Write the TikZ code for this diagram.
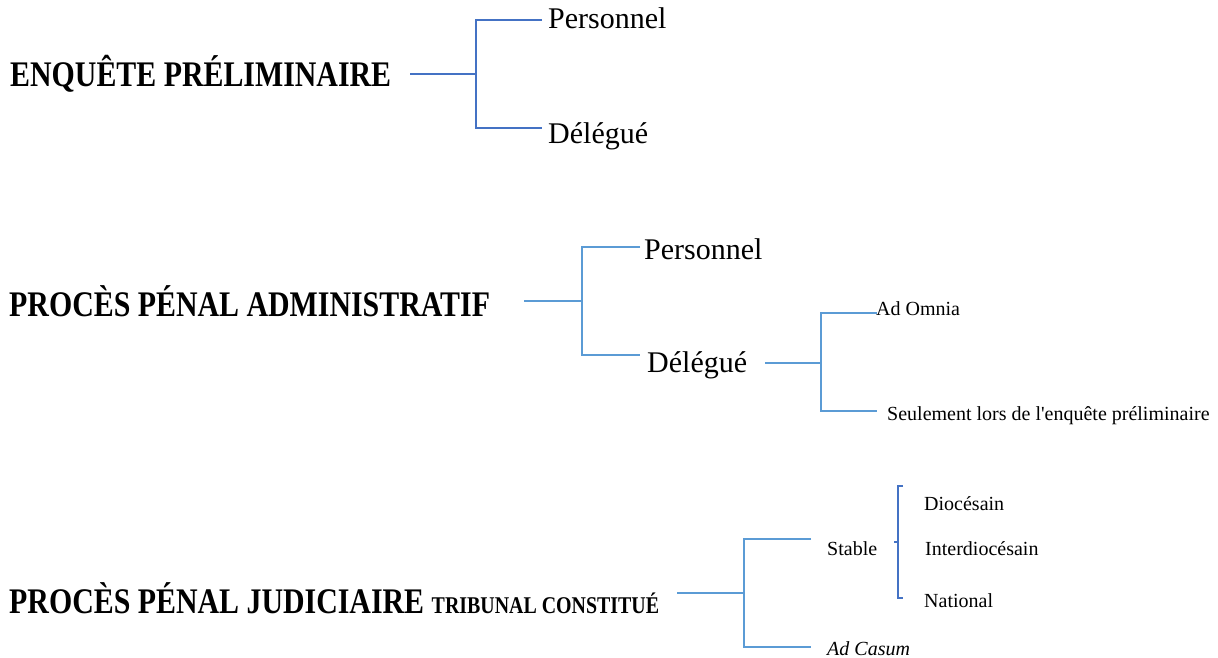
\documentclass[tikz,border=0pt]{standalone}
\usepackage{fontspec}
\setmainfont{Liberation Serif}
\newfontfamily\titlefont[FakeStretch=0.83]{Liberation Serif}
\newfontfamily\smallfont{Liberation Serif}
\newcommand{\subtitlesize}{\fontsize{24}{28}\selectfont}

\definecolor{darkblue}{HTML}{4472C4}
\definecolor{lightblue}{HTML}{5B9BD5}

\tikzset{
	heading/.style={anchor=base west, inner sep=0pt, font=\titlefont\fontsize{36}{40}\selectfont\bfseries},
	bigtext/.style={anchor=base west, inner sep=0pt, font=\fontsize{30}{34}\selectfont},
	smalltext/.style={anchor=base west, inner sep=0pt, font=\smallfont\fontsize{20}{24}\selectfont},
	darkbranch/.style={draw=darkblue, line width=1.2pt},
	lightbranch/.style={draw=lightblue, line width=1.2pt},
}

\begin{document}
\begin{tikzpicture}[x=1pt,y=-1pt]

	\useasboundingbox (0,0) rectangle (1218,658);

	% enquete preliminaire
	\node[heading] (enq) at (10,87) {ENQUÊTE PRÉLIMINAIRE};
	\node[bigtext] (pers1) at (548,29) {Personnel};
	\node[bigtext] (del1) at (548,144) {Délégué};
	\coordinate (s1) at (410,74);
	\coordinate (j1) at (476,74);
	\coordinate (e1a) at (542,20);
	\coordinate (e1b) at (542,128);
	\draw[darkbranch] (s1) -- (j1);
	\draw[darkbranch] (e1a) -| (j1) |- (e1b);

	% proces penal administratif
	\node[heading] (adm) at (9,316) {PROCÈS PÉNAL ADMINISTRATIF};
	\node[bigtext] (pers2) at (644,259) {Personnel};
	\node[bigtext] (del2) at (647,372) {Délégué};
	\coordinate (s2) at (524,301);
	\coordinate (j2) at (582,301);
	\coordinate (e2a) at (640,247);
	\coordinate (e2b) at (640,355);
	\draw[lightbranch] (s2) -- (j2);
	\draw[lightbranch] (e2a) -| (j2) |- (e2b);

	\node[smalltext] (omnia) at (876,315) {Ad Omnia};
	\node[smalltext] (seul) at (887,420) {Seulement lors de l'enquête préliminaire};
	\coordinate (s3) at (765,363);
	\coordinate (j3) at (821,363);
	\coordinate (e3a) at (877,313);
	\coordinate (e3b) at (877,411);
	\draw[lightbranch] (s3) -- (j3);
	\draw[lightbranch] (e3a) -| (j3) |- (e3b);

	% proces penal judiciaire
	\node[heading] (jud) at (9,613) {PROCÈS PÉNAL JUDICIAIRE {\subtitlesize TRIBUNAL CONSTITUÉ}};
	\node[smalltext] (stable) at (827,555) {Stable};
	\node[smalltext] (casum) at (827,655) {\textit{Ad Casum}};
	\coordinate (s4) at (677,593);
	\coordinate (j4) at (744,593);
	\coordinate (e4a) at (811,539);
	\coordinate (e4b) at (811,647);
	\draw[lightbranch] (s4) -- (j4);
	\draw[lightbranch] (e4a) -| (j4) |- (e4b);

	\node[smalltext] (dioc) at (924,510) {Diocésain};
	\node[smalltext] (inter) at (925,555) {Interdiocésain};
	\node[smalltext] (nat) at (924,607) {National};
	\coordinate (b1) at (903,486);
	\coordinate (b2) at (903,598);
	\coordinate (bm) at (894,542);
	\draw[darkbranch] (b1) -- ++(-5,0) |- (b2);
	\draw[darkbranch] (bm) -- ++(4,0);

\end{tikzpicture}
\end{document}
